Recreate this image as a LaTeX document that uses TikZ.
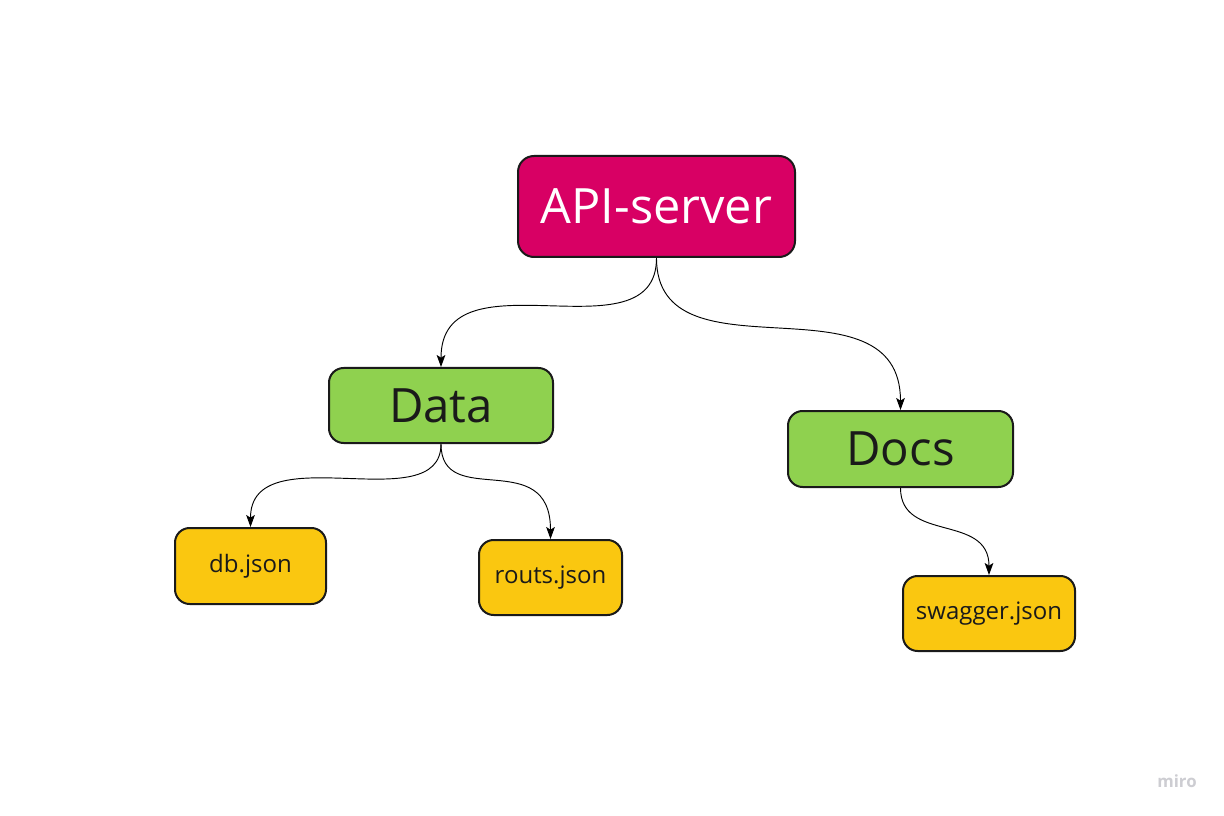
\documentclass[tikz,border=0pt]{standalone}
\usepackage{fontspec}
\setmainfont{Open Sans}
\usetikzlibrary{arrows.meta}
\newcommand\pxu{0.75pt}
\definecolor{apired}{RGB}{216,0,100}
\definecolor{mgreen}{RGB}{143,209,79}
\definecolor{myellow}{RGB}{250,199,16}
\definecolor{bordc}{RGB}{26,26,26}
\definecolor{txtc}{RGB}{26,26,26}
\definecolor{mirogray}{RGB}{205,205,210}
\tikzset{
  box/.style={draw=bordc, line width=1.5pt, rounded corners=11pt, align=center, inner sep=0pt},
  apibox/.style={box, fill=apired, text=white, rounded corners=12pt, font=\fontsize{36.5}{40}\selectfont},
  midbox/.style={box, fill=mgreen, text=txtc, font=\fontsize{35.5}{40}\selectfont},
  leafbox/.style={box, fill=myellow, text=txtc, font=\fontsize{18}{22}\selectfont},
  conn/.style={line width=0.7pt, black, -{Stealth[length=9pt,width=6.5pt,inset=2pt]}}
}
\begin{document}
\begin{tikzpicture}[x=0.75pt,y=-0.75pt]
\useasboundingbox[fill=white] (0,0) rectangle (1224,816);
\node[apibox, minimum width=277*\pxu, minimum height=101*\pxu] (api) at (656.5,206.5) {API-server};
\node[midbox, minimum width=224*\pxu, minimum height=75*\pxu] (data) at (441,405.5) {Data};
\node[midbox, minimum width=225*\pxu, minimum height=76*\pxu] (docs) at (900.5,449) {Docs};
\node[leafbox, minimum width=151*\pxu, minimum height=76*\pxu] (db) at (250.5,566) {db.json};
\node[leafbox, minimum width=143*\pxu, minimum height=75*\pxu] (routs) at (550.5,577.5) {routs.json};
\node[leafbox, minimum width=172*\pxu, minimum height=75*\pxu] (swagger) at (989,613.5) {swagger.json};
\draw[conn] (api.south) .. controls +(0,103) and +(0,-118) .. (data.north);
\draw[conn] (api.south) .. controls +(0,127) and +(0,-140) .. (docs.north);
\draw[conn] (data.south) .. controls +(0,77) and +(0,-93) .. (db.north);
\draw[conn] (data.south) .. controls +(0,67) and +(0,-94) .. (routs.north);
\draw[conn] (docs.south) .. controls +(0,55) and +(0,-62) .. (swagger.north);
\node[text=mirogray, font=\fontsize{12.6}{14}\selectfont\bfseries, inner sep=0pt] (miro) at (1177,781) {miro};
\end{tikzpicture}
\end{document}
